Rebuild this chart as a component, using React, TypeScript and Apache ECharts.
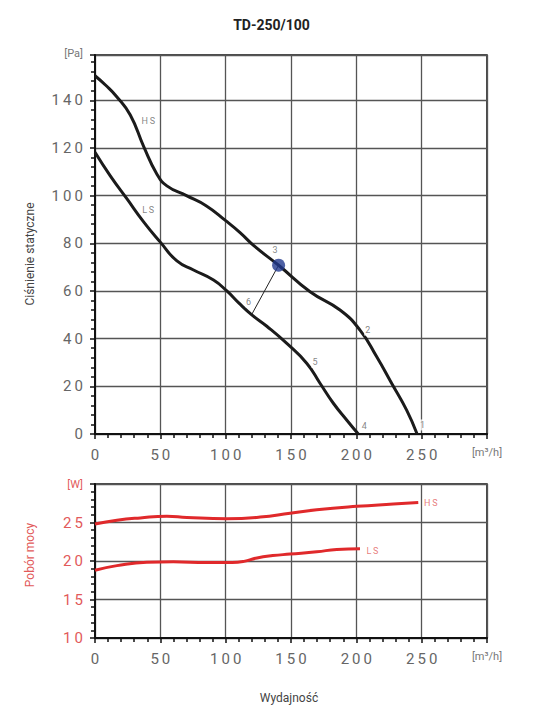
import React, { useEffect, useRef } from "react";
import * as echarts from "echarts";

// ---- data ----
const hsPressure: [number, number][] = [
  [0, 150.3], [8, 146.4], [16.8, 141.4], [27, 133.8], [37.2, 120.7], [47.4, 109],
  [55, 104.1], [70, 100], [85, 95.8], [100, 89.5], [111, 84.5], [122, 78.8],
  [140.5, 70.8], [164.6, 59.7], [187.5, 52], [202.8, 43.6], [215.6, 32.4],
  [227, 21.3], [238.5, 10], [246.5, 0],
];
const lsPressure: [number, number][] = [
  [0, 118.2], [11.7, 108.3], [24.5, 98.6], [37.2, 89], [50, 80.5], [62.7, 72.6],
  [75.4, 68.8], [90.7, 64.6], [100.9, 60], [110, 55], [120, 50], [131.5, 45.2],
  [146.8, 38], [162, 29.7], [172.2, 21.3], [182.4, 12.9], [192.6, 5.9], [201.5, 0],
];
const dutyPoint: [number, number] = [140.5, 70.8];
const dutyLinkEnd: [number, number] = [120, 50.2];
const pressureNotes: [string, number, number][] = [
  ["3", 137.8, 77], ["2", 208.7, 43.6], ["1", 250.7, 3.8], ["4", 206, 3.4],
  ["5", 168.4, 30], ["6", 117.5, 55.5], ["H\u2009S", 40.7, 131.3], ["L\u2009S", 40.7, 93.8],
];
const hsPower: [number, number][] = [
  [0, 24.8], [16.8, 25.3], [34.7, 25.6], [55, 25.8], [70.3, 25.65], [100.9, 25.5],
  [126.4, 25.7], [149.3, 26.2], [169.7, 26.65], [200.3, 27.1], [228.3, 27.4], [247.4, 27.6],
];
const lsPower: [number, number][] = [
  [0, 18.8], [16.8, 19.4], [39.7, 19.85], [60, 19.9], [85.6, 19.8], [105, 19.8],
  [114, 19.95], [124, 20.4], [136, 20.7], [149.3, 20.9], [169.7, 21.2], [185, 21.5], [202.8, 21.6],
];
const powerNotes: [string, number, number][] = [
  ["H\u2009S", 256.9, 27.5], ["L\u2009S", 212.3, 21.3],
];
const X_MAX = 300;
const X_STEP = 50;
const P_MAX = 159;
const P_STEP = 20;
const W_MIN = 10;
const W_MAX = 30;
const W_STEP = 5;
const title = "TD-250/100";
const flowUnit = "[m³/h]";
const pressureUnit = "[Pa]";
const powerUnit = "[W]";
const pressureName = "Ciśnienie statyczne";
const powerName = "Pobór mocy";
const flowName = "Wydajność";

const GRAY = "#666";
const RED_TXT = "#e25a5a";
const RED = "#e0292b";
const FONT = "Roboto, 'Noto Sans', sans-serif";

const spaced = (v: number) => String(v).split("").join("\u2009");

export default function App() {
  const ref = useRef<HTMLDivElement>(null);
  useEffect(() => {
    if (!ref.current) return;
    const chart = echarts.init(ref.current, undefined, { renderer: "svg" });

    const xAxisBase = (gridIndex: number) => ({
      type: "value" as const,
      gridIndex,
      min: 0,
      max: X_MAX,
      interval: X_STEP,
      axisLine: { show: true, lineStyle: { color: "#111", width: 2 } },
      axisTick: { show: true, length: 5, lineStyle: { color: "#111", width: 1.5 } },
      minorTick: { show: true, splitNumber: 5, length: 4, lineStyle: { color: "#111", width: 1.5 } },
      splitLine: { show: true, lineStyle: { color: "#555", width: 1.3 } },
      axisLabel: {
        margin: 13,
        fontSize: 15,
        fontFamily: FONT,
        color: GRAY,
        formatter: (v: number) => (v === X_MAX ? `{u|${flowUnit}}` : spaced(v)),
        rich: { u: { fontSize: 11, fontFamily: FONT, color: "#777" } },
      },
    });

    const noteSeries = (notes: [string, number, number][], xi: number, yi: number, color: string) => ({
      type: "scatter" as const,
      xAxisIndex: xi,
      yAxisIndex: yi,
      symbolSize: 1,
      itemStyle: { color: "rgba(0,0,0,0)" },
      silent: true,
      z: 5,
      data: notes.map(([t, x, y]) => ({ value: [x, y], name: t })),
      label: {
        show: true,
        position: "inside" as const,
        formatter: (p: any) => p.name,
        fontSize: 9,
        fontFamily: FONT,
        color,
        backgroundColor: "#fff",
        padding: [1, 1],
      },
    });

    const curve = (data: [number, number][], xi: number, color: string) => ({
      type: "line" as const,
      xAxisIndex: xi,
      yAxisIndex: xi,
      data,
      smooth: 0.5,
      showSymbol: false,
      lineStyle: { color, width: 3 },
      z: 3,
    });

    chart.setOption({
      animation: false,
      backgroundColor: "#fff",
      grid: [
        { left: 95, right: 56, top: 55, height: 379, show: true, borderColor: "#111", borderWidth: 1.5, backgroundColor: "transparent" },
        { left: 95, right: 56, top: 484, height: 154, show: true, borderColor: "#111", borderWidth: 1.5, backgroundColor: "transparent" },
      ],
      xAxis: [xAxisBase(0), xAxisBase(1)],
      yAxis: [
        {
          type: "value",
          gridIndex: 0,
          min: 0,
          max: P_MAX,
          interval: P_STEP,
          axisLine: { show: true, lineStyle: { color: "#111", width: 2 } },
          axisTick: { show: true, length: 5, lineStyle: { color: "#111", width: 1.5 } },
          minorTick: { show: true, splitNumber: 5, length: 4, lineStyle: { color: "#111", width: 1.5 } },
          splitLine: { show: true, lineStyle: { color: "#555", width: 1.3 } },
          axisLabel: {
            margin: 12,
            fontSize: 15,
            fontFamily: FONT,
            color: GRAY,
            showMaxLabel: true,
            formatter: (v: number) => (v === P_MAX ? `{u|${pressureUnit}}` : v % P_STEP === 0 ? spaced(v) : ""),
            rich: { u: { fontSize: 11, fontFamily: FONT, color: "#777", padding: [0, 0, 4, 0] } },
          },
        },
        {
          type: "value",
          gridIndex: 1,
          min: W_MIN,
          max: W_MAX,
          interval: W_STEP,
          axisLine: { show: true, lineStyle: { color: "#111", width: 2 } },
          axisTick: { show: true, length: 5, lineStyle: { color: "#111", width: 1.5 } },
          minorTick: { show: true, splitNumber: 5, length: 4, lineStyle: { color: "#111", width: 1.5 } },
          splitLine: { show: true, lineStyle: { color: "#555", width: 1.3 } },
          axisLabel: {
            margin: 12,
            fontSize: 15,
            fontFamily: FONT,
            color: RED_TXT,
            formatter: (v: number) => (v === W_MAX ? `{u|${powerUnit}}` : spaced(v)),
            rich: { u: { fontSize: 11, fontFamily: FONT, color: RED_TXT } },
          },
        },
      ],
      graphic: [
        {
          type: "text",
          left: "center",
          top: 18,
          style: { text: title, fontSize: 14, fontWeight: "bold", fontFamily: FONT, fill: "#222" },
        },
        {
          type: "text",
          x: 30,
          y: 254,
          rotation: Math.PI / 2,
          style: { text: pressureName, fontSize: 12, fontFamily: FONT, fill: "#444", align: "center", verticalAlign: "middle" },
        },
        {
          type: "text",
          x: 30,
          y: 555,
          rotation: Math.PI / 2,
          style: { text: powerName, fontSize: 12, fontFamily: FONT, fill: RED_TXT, align: "center", verticalAlign: "middle" },
        },
        {
          type: "text",
          x: 289,
          y: 698,
          style: { text: flowName, fontSize: 12, fontFamily: FONT, fill: "#444", align: "center", verticalAlign: "middle" },
        },
      ],
      series: [
        curve(hsPressure, 0, "#1b1b1b"),
        curve(lsPressure, 0, "#1b1b1b"),
        {
          type: "line",
          xAxisIndex: 0,
          yAxisIndex: 0,
          data: [dutyPoint, dutyLinkEnd],
          showSymbol: false,
          lineStyle: { color: "#222", width: 1 },
          z: 3,
        },
        {
          type: "scatter",
          xAxisIndex: 0,
          yAxisIndex: 0,
          data: [dutyPoint],
          symbolSize: 13,
          itemStyle: { color: "#22398f" },
          z: 6,
        },
        noteSeries(pressureNotes, 0, 0, "#666"),
        curve(hsPower, 1, RED),
        curve(lsPower, 1, RED),
        noteSeries(powerNotes, 1, 1, RED_TXT),
      ],
    });
    return () => chart.dispose();
  }, []);
  return (
    <div
      ref={ref}
      style={{ position: "absolute", left: 0, top: 0, width: 543, height: 713, background: "#fff" }}
    />
  );
}
